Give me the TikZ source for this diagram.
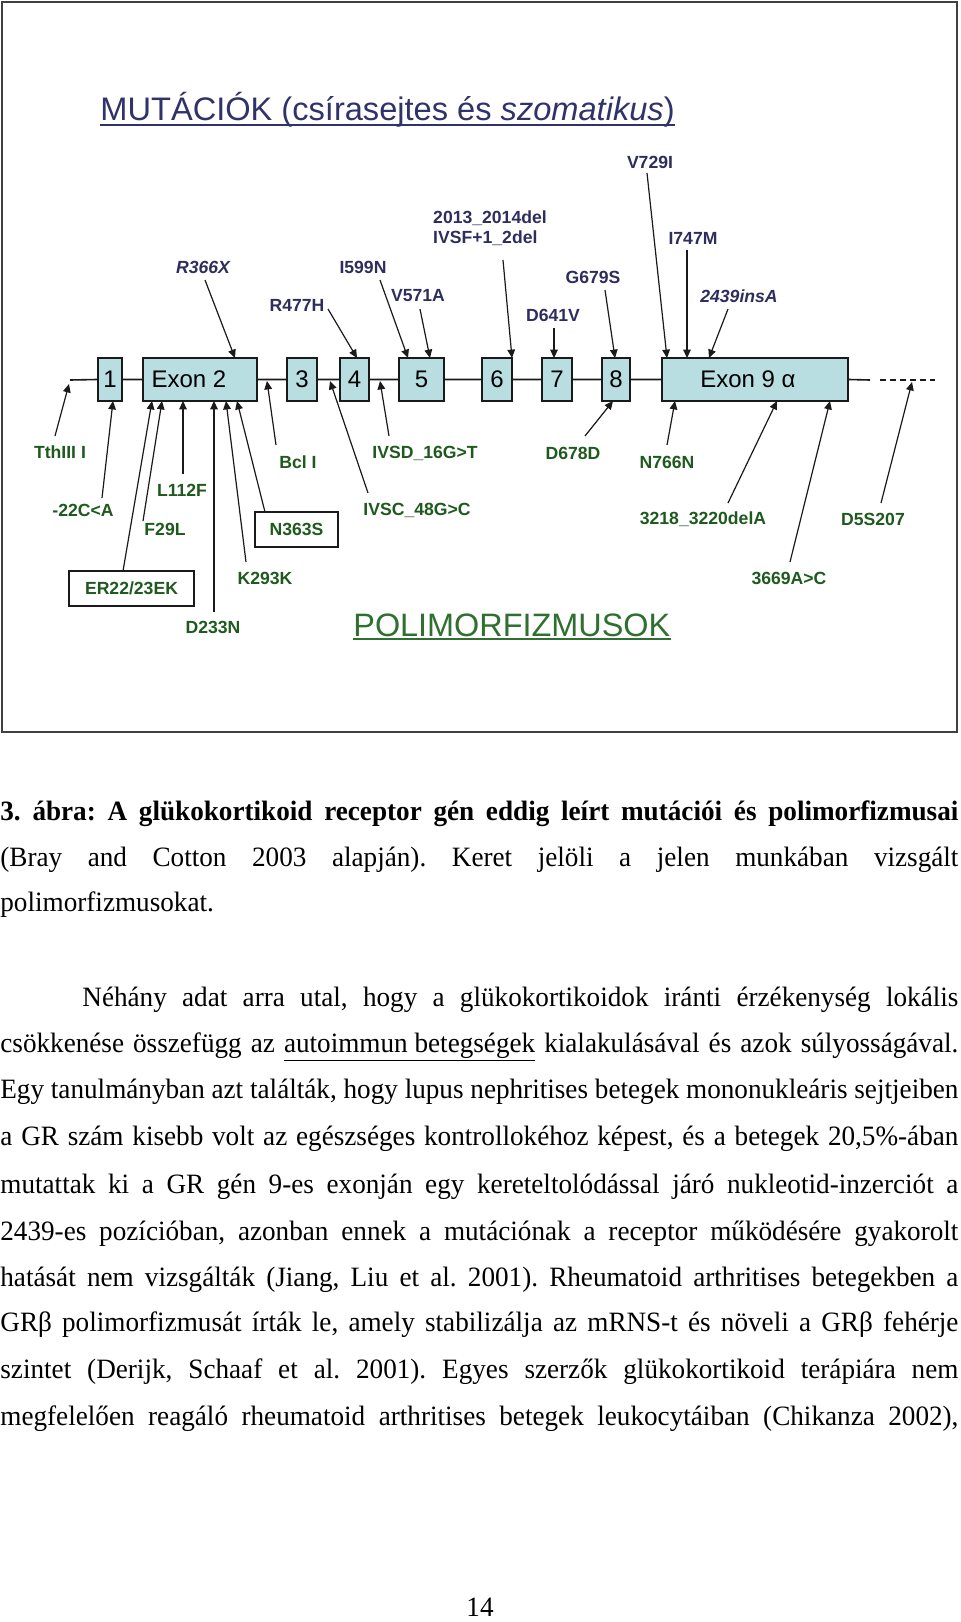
\documentclass[tikz,border=0pt]{standalone}
\usepackage{fontspec}
\setmainfont{Liberation Serif}
\newfontfamily\arialf{Liberation Sans}
\newfontfamily\bodyf[FakeStretch=0.97]{Liberation Serif}
\usetikzlibrary{arrows.meta,calc}
\definecolor{navyc}{HTML}{2E2E5E}
\definecolor{titlec}{HTML}{30336A}
\definecolor{greenc}{HTML}{1E5A1E}
\definecolor{polc}{HTML}{2F6F2F}
\definecolor{exonc}{HTML}{B9DEE2}
\definecolor{linec}{HTML}{1A1A1A}
\frenchspacing
\newcommand\jl[2]{\makebox[#1][s]{#2}}
\newcommand\annot[9]{%
  \node[#2] (#1) at (#3,#4) {#5};
  \coordinate (#1-s) at (#6,#7);
  \coordinate (#1-t) at (#8,#9);
  \draw[arr] (#1-s) -- (#1-t);
}
\begin{document}
\begin{tikzpicture}[x=0.5pt,y=-0.5pt,
  mutlab/.style={font=\arialf\bfseries\fontsize{8.8}{10}\selectfont, text=navyc, inner sep=0.5pt},
  mutit/.style={mutlab, font=\arialf\bfseries\itshape\fontsize{8.8}{10}\selectfont},
  pollab/.style={font=\arialf\bfseries\fontsize{8.8}{10}\selectfont, text=greenc, inner sep=0.5pt},
  polbox/.style={pollab, draw=linec, line width=0.6pt, minimum height=17.5pt},
  exon/.style={draw=linec, fill=exonc, line width=0.9pt, minimum height=21.5pt, inner sep=0pt, font=\arialf\fontsize{12}{14}\selectfont},
  exontext/.style={inner sep=0pt, font=\arialf\fontsize{12}{14}\selectfont},
  arr/.style={draw=linec, line width=0.6pt, -{Triangle[length=4.2pt,width=3.8pt]}},
  gene/.style={draw=linec, line width=0.8pt},
  body/.style={font=\bodyf\fontsize{14}{16}\selectfont, anchor=base west, inner sep=0pt},
]
\fill[white] (0,0) rectangle (960,1622);
\useasboundingbox (0,0) rectangle (960,1622);
\draw[draw=black!75, line width=1pt] (2,2) rectangle (957,732);

% titles
\node[anchor=base west, inner sep=0pt, font=\arialf\fontsize{16.3}{18}\selectfont, text=titlec] (title) at (100,120) {MUTÁCIÓK (csírasejtes és \textit{szomatikus})};
\draw[titlec, line width=0.6pt] ($(title.base west)+(0,5)$) -- ($(title.base east)+(0,5)$);
\node[anchor=base west, inner sep=0pt, font=\arialf\fontsize{16.2}{18}\selectfont, text=polc] (poli) at (353,636) {POLIMORFIZMUSOK};
\draw[polc, line width=0.6pt] ($(poli.base west)+(0,3)$) -- ($(poli.base east)+(0,3)$);

% gene line
\coordinate (gs) at (70,380);
\coordinate (ge) at (870,380);
\coordinate (ds) at (880,380);
\coordinate (de) at (935,380);
\node[exon, minimum width=12pt] (b1) at (110,379.5) {1};
\node[exon, minimum width=57pt] (b2) at (200,379.5) {};
\node[exontext] (b2t) at (189,379.5) {Exon 2};
\node[exon, minimum width=15pt] (b3) at (302,379.5) {3};
\node[exon, minimum width=14.5pt] (b4) at (354.5,379.5) {4};
\node[exon, minimum width=22.5pt] (b5) at (421.5,379.5) {5};
\node[exon, minimum width=15pt] (b6) at (497,379.5) {6};
\node[exon, minimum width=15pt] (b7) at (557,379.5) {7};
\node[exon, minimum width=14pt] (b8) at (616,379.5) {8};
\node[exon, minimum width=93pt] (b9) at (755,379.5) {};
\node[exontext] (b9t) at (748,379.5) {Exon 9 α};
\draw[gene] (gs) -- (b1.west) (b1.east) -- (b2.west) (b2.east) -- (b3.west) (b3.east) -- (b4.west)
  (b4.east) -- (b5.west) (b5.east) -- (b6.west) (b6.east) -- (b7.west) (b7.east) -- (b8.west)
  (b8.east) -- (b9.west) (b9.east) -- (ge);
\draw[gene, dash pattern=on 3pt off 2pt] (ds) -- (de);

% mutations
\annot{m1}{mutit}{203}{267}{R366X}{205}{280}{235}{358}
\annot{m2}{mutlab}{297}{305}{R477H}{328}{309}{357}{358}
\annot{m3}{mutlab}{363}{267}{I599N}{380}{280}{408}{358}
\annot{m4}{mutlab}{418}{296}{V571A}{420}{309}{430}{358}
\annot{m5}{mutlab,align=left}{490}{228}{2013\_2014del\\IVSF+1\_2del}{503}{260}{512}{358}
\annot{m6}{mutlab}{593}{277}{G679S}{605}{290}{615}{358}
\annot{m7}{mutlab}{553}{315}{D641V}{554}{328}{554}{358}
\annot{m8}{mutlab}{650}{162}{V729I}{647}{173}{667}{358}
\annot{m9}{mutlab}{693}{238}{I747M}{687}{250}{687}{358}
\annot{m10}{mutit}{739}{296}{2439insA}{728}{309}{709}{358}

% polymorphisms
\annot{p1}{pollab}{60}{452}{TthIII I}{55}{436}{69}{384}
\annot{p2}{pollab}{83}{510}{-22C<A}{102}{498}{113}{401}
\annot{p3}{pollab}{182}{490}{L112F}{183}{474}{183}{401}
\annot{p4}{pollab}{165}{529}{F29L}{143}{521}{162}{401}
\annot{p5}{polbox,minimum width=62.5pt}{131.5}{588.5}{ER22/23EK}{123}{571}{152}{401}
\annot{p6}{pollab}{213}{627}{D233N}{214}{612}{214}{401}
\annot{p7}{pollab}{265}{578}{K293K}{246}{562}{226}{401}
\annot{p8}{polbox,minimum width=41.5pt}{296.5}{529.5}{N363S}{265}{512}{237}{401}
\annot{p9}{pollab}{298}{462}{Bcl I}{276}{445}{267}{381}
\annot{p10}{pollab}{417}{510}{IVSC\_48G>C}{368}{493}{330}{381}
\annot{p11}{pollab}{425}{453}{IVSD\_16G>T}{389}{436}{380}{381}
\annot{p12}{pollab}{573}{453}{D678D}{585}{436}{613}{401}
\annot{p13}{pollab}{667}{462}{N766N}{667}{445}{675}{401}
\annot{p14}{pollab}{703}{519}{3218\_3220delA}{728}{503}{777}{401}
\annot{p15}{pollab}{789}{578}{3669A>C}{790}{562}{830}{401}
\annot{p16}{pollab}{873}{519}{D5S207}{881}{503}{912}{382}

% body text
\node[body] (c1) at (0,820) {\bfseries\jl{479pt}{3. ábra: A glükokortikoid receptor gén eddig leírt mutációi és polimorfizmusai}};
\node[body] (c2) at (0,866) {\jl{479pt}{(Bray and Cotton 2003 alapján). Keret jelöli a jelen munkában vizsgált}};
\node[body] (c3) at (0,911) {polimorfizmusokat.};
\node[body] (t1) at (82,1006) {\jl{438pt}{Néhány adat arra utal, hogy a glükokortikoidok iránti érzékenység lokális}};
\node[body] (t2) at (0,1052) {\jl{479pt}{csökkenése összefügg az \underline{autoimmun betegségek} kialakulásával és azok súlyosságával.}};
\node[body] (t3) at (0,1098) {\jl{479pt}{Egy tanulmányban azt találták, hogy lupus nephritises betegek mononukleáris sejtjeiben}};
\node[body] (t4) at (0,1145) {\jl{479pt}{a GR szám kisebb volt az egészséges kontrollokéhoz képest, és a betegek 20,5\%-ában}};
\node[body] (t5) at (0,1193) {\jl{479pt}{mutattak ki a GR gén 9-es exonján egy kereteltolódással járó nukleotid-inzerciót a}};
\node[body] (t6) at (0,1240) {\jl{479pt}{2439-es pozícióban, azonban ennek a mutációnak a receptor működésére gyakorolt}};
\node[body] (t7) at (0,1286) {\jl{479pt}{hatását nem vizsgálták (Jiang, Liu et al. 2001). Rheumatoid arthritises betegekben a}};
\node[body] (t8) at (0,1331) {\jl{479pt}{GRβ polimorfizmusát írták le, amely stabilizálja az mRNS-t és növeli a GRβ fehérje}};
\node[body] (t9) at (0,1378) {\jl{479pt}{szintet (Derijk, Schaaf et al. 2001). Egyes szerzők glükokortikoid terápiára nem}};
\node[body] (t10) at (0,1425) {\jl{479pt}{megfelelően reagáló rheumatoid arthritises betegek leukocytáiban (Chikanza 2002),}};
\node[body, anchor=base] (pg) at (480,1616) {14};
\end{tikzpicture}
\end{document}
